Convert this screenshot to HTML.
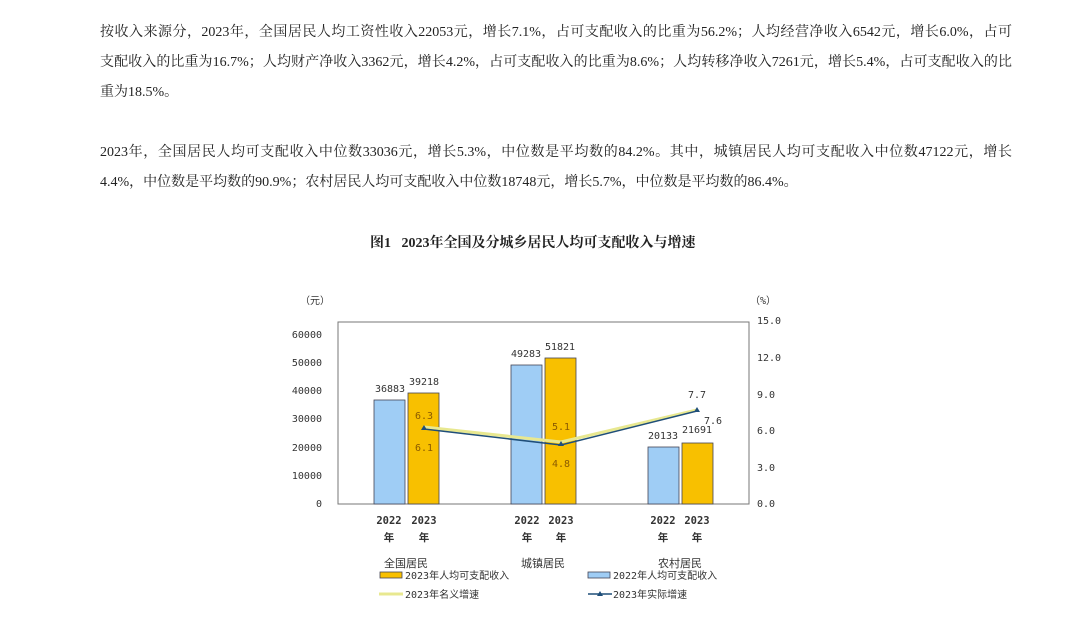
<!DOCTYPE html>
<html><head><meta charset="utf-8"><style>
body{margin:0;width:1080px;height:636px;background:#fff;overflow:hidden;position:relative;font-family:"Liberation Serif","Noto Serif CJK SC",serif;color:#222}
.l{position:absolute;left:100px;font-size:14px;line-height:16px;white-space:nowrap}
.j{width:912px;text-align:justify;text-align-last:justify}
</style></head><body>
<div class="l j" style="top:25px">按收入来源分，2023年，全国居民人均工资性收入22053元，增长7.1%，占可支配收入的比重为56.2%；人均经营净收入6542元，增长6.0%，占可</div>
<div class="l j" style="top:55px">支配收入的比重为16.7%；人均财产净收入3362元，增长4.2%，占可支配收入的比重为8.6%；人均转移净收入7261元，增长5.4%，占可支配收入的比</div>
<div class="l" style="top:85px">重为18.5%。</div>
<div class="l j" style="top:145px">2023年，全国居民人均可支配收入中位数33036元，增长5.3%，中位数是平均数的84.2%。其中，城镇居民人均可支配收入中位数47122元，增长</div>
<div class="l" style="top:175px">4.4%，中位数是平均数的90.9%；农村居民人均可支配收入中位数18748元，增长5.7%，中位数是平均数的86.4%。</div>
<div style="position:absolute;left:370px;top:232px;font-size:14px;font-weight:bold;white-space:nowrap">图1&nbsp;&nbsp;&nbsp;2023年全国及分城乡居民人均可支配收入与增速</div>
<svg width="1080" height="636" style="position:absolute;left:0;top:0" font-family="'DejaVu Sans Mono','Noto Sans CJK SC',monospace" font-size="10" fill="#333">
<text x="300" y="304">（元）</text><text x="750" y="304">（%）</text>
<rect x="338" y="322" width="411" height="182" fill="none" stroke="#777" stroke-width="1"/>
<g text-anchor="end">
<text x="322" y="338">60000</text><text x="322" y="366">50000</text><text x="322" y="394">40000</text><text x="322" y="422">30000</text><text x="322" y="451">20000</text><text x="322" y="479">10000</text><text x="322" y="507">0</text>
</g>
<g>
<text x="757" y="324">15.0</text><text x="757" y="361">12.0</text><text x="757" y="398">9.0</text><text x="757" y="434">6.0</text><text x="757" y="471">3.0</text><text x="757" y="507">0.0</text>
</g>
<g stroke="#445" stroke-width="0.8">
<rect x="374" y="400" width="31" height="104" fill="#9fcdf5"/>
<rect x="408" y="393" width="31" height="111" fill="#f8c000"/>
<rect x="511" y="365" width="31" height="139" fill="#9fcdf5"/>
<rect x="545" y="358" width="31" height="146" fill="#f8c000"/>
<rect x="648" y="447" width="31" height="57" fill="#9fcdf5"/>
<rect x="682" y="443" width="31" height="61" fill="#f8c000"/>
</g>
<g text-anchor="middle">
<text x="390" y="392">36883</text><text x="424" y="385">39218</text>
<text x="526" y="357">49283</text><text x="560" y="350">51821</text>
<text x="663" y="439">20133</text><text x="697" y="433">21691</text>
<text x="697" y="398">7.7</text><text x="713" y="424">7.6</text>
<g fill="#8a5a00"><text x="424" y="419">6.3</text><text x="424" y="451">6.1</text><text x="561" y="430">5.1</text><text x="561" y="467">4.8</text></g>
</g>
<polyline points="424,427 561,442 697,410" fill="none" stroke="#e8e890" stroke-width="3"/>
<polyline points="424,429 561,445 697,411" fill="none" stroke="#1f4e79" stroke-width="1.5"/>
<g fill="#1f4e79"><path d="M424,425 l3,5 h-6z"/><path d="M561,441 l3,5 h-6z"/><path d="M697,407 l3,5 h-6z"/></g>
<g text-anchor="middle" font-weight="bold" font-size="10.5">
<text x="389" y="524">2022</text><text x="424" y="524">2023</text><text x="389" y="541">年</text><text x="424" y="541">年</text>
<text x="527" y="524">2022</text><text x="561" y="524">2023</text><text x="527" y="541">年</text><text x="561" y="541">年</text>
<text x="663" y="524">2022</text><text x="697" y="524">2023</text><text x="663" y="541">年</text><text x="697" y="541">年</text>
</g>
<g font-size="11"><text x="384" y="567">全国居民</text><text x="521" y="567">城镇居民</text><text x="658" y="567">农村居民</text></g>
<rect x="380" y="572" width="22" height="6" fill="#f8c000" stroke="#445" stroke-width="0.8"/>
<text x="405" y="579">2023年人均可支配收入</text>
<rect x="588" y="572" width="22" height="6" fill="#9fcdf5" stroke="#445" stroke-width="0.8"/>
<text x="613" y="579">2022年人均可支配收入</text>
<line x1="379" y1="594" x2="403" y2="594" stroke="#e8e890" stroke-width="3"/>
<text x="405" y="598">2023年名义增速</text>
<line x1="588" y1="594" x2="612" y2="594" stroke="#1f4e79" stroke-width="1.5"/>
<path d="M600,591 l3,5 h-6z" fill="#1f4e79"/>
<text x="613" y="598">2023年实际增速</text>
</svg>
</body></html>
